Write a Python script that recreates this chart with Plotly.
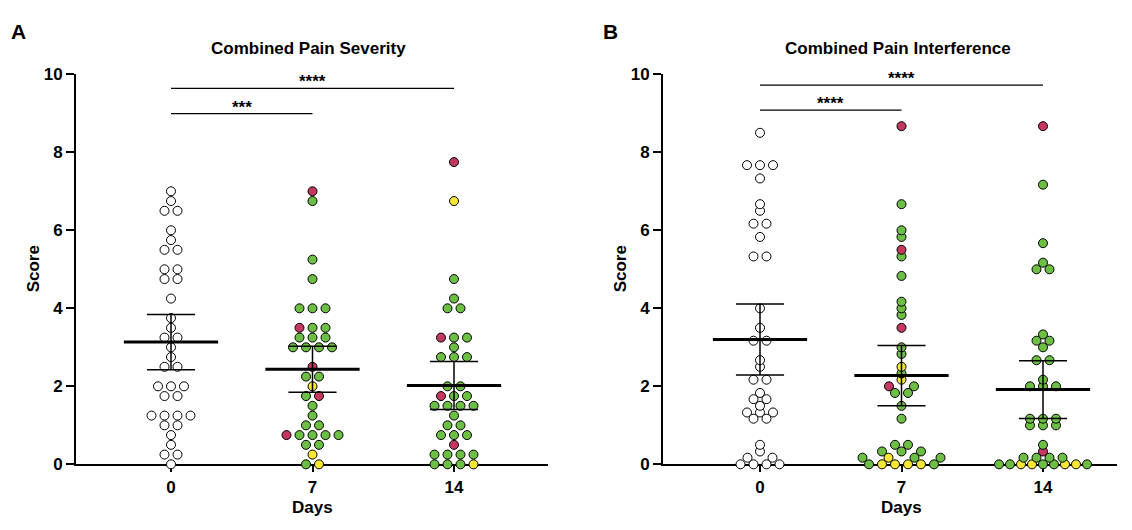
import numpy as np
import plotly.graph_objects as go

# ---------------- data ----------------
days = ["0", "7", "14"]
y_ticks = [0, 2, 4, 6, 8, 10]

# Panel A: Combined Pain Severity (left-to-right order within equal values)
sev_d0 = [0, 0.25, 0.25, 0.5, 0.75, 1, 1, 1.25, 1.25, 1.25, 1.25, 1.75, 1.75,
          2, 2, 2, 2.5, 2.5, 2.75, 3, 3.25, 3.25, 3.5, 3.75, 4.25, 4.75, 4.75,
          5, 5, 5.5, 5.5, 5.75, 6, 6.5, 6.5, 6.75, 7]
sev_d0_grp = ["W", "W", "W", "W", "W", "W", "W", "W", "W", "W", "W", "W", "W",
              "W", "W", "W", "W", "W", "W", "W", "W", "W", "W", "W", "W", "W", "W",
              "W", "W", "W", "W", "W", "W", "W", "W", "W", "W"]

sev_d7 = [0, 0, 0.25, 0.5, 0.5, 0.75, 0.75, 0.75, 0.75, 0.75, 1, 1, 1.25, 1.5,
          1.75, 1.75, 2, 2.25, 2.25, 2.5, 3, 3, 3, 3, 3.25, 3.25, 3.25,
          3.5, 3.5, 3.5, 4, 4, 4, 4.75, 5.25, 6.75, 7]
sev_d7_grp = ["G", "Y", "Y", "G", "G", "R", "G", "G", "G", "G", "G", "G", "G", "G",
              "G", "R", "Y", "G", "G", "R", "G", "G", "G", "G", "G", "G", "G",
              "R", "G", "G", "G", "G", "G", "G", "G", "G", "R"]

sev_d14 = [0, 0, 0, 0, 0.25, 0.25, 0.25, 0.25, 0.5, 0.75, 0.75, 0.75, 1, 1, 1.25,
           1.5, 1.5, 1.5, 1.5, 1.75, 1.75, 1.75, 2, 2, 2.75, 2.75, 2.75, 3,
           3.25, 3.25, 3.25, 4, 4, 4.25, 4.75, 6.75, 7.75]
sev_d14_grp = ["G", "G", "G", "Y", "G", "G", "G", "G", "R", "G", "G", "G", "G", "G", "G",
               "G", "G", "G", "G", "R", "G", "G", "G", "G", "G", "G", "G", "G",
               "R", "G", "G", "G", "G", "G", "G", "Y", "R"]

# Panel B: Combined Pain Interference
int_d0 = [0, 0, 0, 0, 0.17, 0.17, 0.33, 0.5, 1.17, 1.17, 1.33, 1.33, 1.33, 1.5,
          1.67, 1.67, 1.83, 2.17, 2.17, 2.5, 2.67, 3.17, 3.17, 3.5, 4.0,
          5.33, 5.33, 5.83, 6.17, 6.17, 6.5, 6.67, 7.33, 7.67, 7.67, 7.67, 8.5]
int_d0_grp = ["W", "W", "W", "W", "W", "W", "W", "W", "W", "W", "W", "W", "W", "W",
              "W", "W", "W", "W", "W", "W", "W", "W", "W", "W", "W",
              "W", "W", "W", "W", "W", "W", "W", "W", "W", "W", "W", "W"]

int_d7 = [0, 0, 0, 0, 0, 0, 0.17, 0.17, 0.17, 0.17, 0.33, 0.33, 0.33, 0.5, 0.5,
          1.17, 1.5, 1.83, 1.83, 2.0, 2.0, 2.17, 2.33, 2.5, 2.83, 3.0, 3.5,
          3.83, 4.0, 4.17, 4.83, 5.33, 5.5, 5.83, 6.0, 6.67, 8.67]
int_d7_grp = ["G", "Y", "Y", "Y", "Y", "G", "G", "Y", "G", "G", "G", "G", "G", "G", "G",
              "G", "G", "G", "G", "R", "G", "Y", "G", "Y", "G", "G", "R",
              "G", "G", "G", "G", "G", "R", "G", "G", "G", "R"]

int_d14 = [0, 0, 0, 0, 0, 0, 0, 0, 0, 0.17, 0.17, 0.17, 0.17, 0.33, 0.5,
           1.0, 1.0, 1.0, 1.17, 1.17, 1.17, 2.0, 2.0, 2.0, 2.17, 2.67, 2.67,
           3.0, 3.17, 3.17, 3.33, 5.0, 5.0, 5.17, 5.67, 7.17, 8.67]
int_d14_grp = ["G", "G", "Y", "Y", "G", "G", "Y", "Y", "G", "G", "G", "G", "G", "R", "G",
               "G", "G", "G", "G", "G", "G", "G", "G", "G", "G", "G", "G",
               "G", "G", "G", "G", "G", "G", "G", "G", "G", "R"]

group_colors = {"W": "#FFFFFF", "G": "#6DBE45", "R": "#C4375F", "Y": "#F6E635"}

panels = [
    {"title": "Combined Pain Severity", "letter": "A",
     "cols": [(sev_d0, sev_d0_grp), (sev_d7, sev_d7_grp), (sev_d14, sev_d14_grp)],
     "sig": [(0, 2, 9.64, "****"), (0, 1, 8.99, "***")]},
    {"title": "Combined Pain Interference", "letter": "B",
     "cols": [(int_d0, int_d0_grp), (int_d7, int_d7_grp), (int_d14, int_d14_grp)],
     "sig": [(0, 2, 9.72, "****"), (0, 1, 9.08, "****")]},
]

# ---------------- layout geometry (window pixels) ----------------
WIN_W, WIN_H = 1132, 530
OFF = 8                       # default page body margin
FW, FH = WIN_W - 2 * OFF, WIN_H - 2 * OFF
Y_TOP, Y_BOT = 67.5, 472.5
PX_PER_CAT = 141.5
geo = [
    {"x0": 76, "x1": 548, "c0": 171, "letter_x": 18},
    {"x0": 663, "x1": 1117, "c0": 760, "letter_x": 610},
]
PPU = (Y_BOT - Y_TOP) / 10.0
FONT = "Liberation Sans, Arial, sans-serif"


def px_x(px):
    return (px - OFF) / FW


def px_y(py):
    return 1 - (py - OFF) / FH


def swarm(vals, ppu, unit=13.0, wmax=88.0, dmin=9.0):
    vals = np.asarray(vals, float)
    keys = np.round(vals, 2)
    offs = np.zeros(len(vals))
    placed = []
    for v in sorted(set(keys.tolist())):
        idx = np.where(keys == v)[0]
        n = len(idx)
        y = v * ppu
        if n == 1:
            xs = [0.0]
        else:
            s0 = min(unit, wmax / (n - 1))

            def trial(s):
                xs = [(i - (n - 1) / 2) * s for i in range(n)]
                for x in xs:
                    for (px, py) in placed:
                        if (x - px) ** 2 + (y - py) ** 2 < dmin ** 2 - 1e-9:
                            return None
                return xs

            xs = None
            s = s0
            while s * (n - 1) <= wmax + 1e-9:
                xs = trial(s)
                if xs is not None:
                    break
                s += 0.5
            if xs is None:
                xs = [(i - (n - 1) / 2) * s0 for i in range(n)]
        for j, x in zip(idx, sorted(xs)):
            offs[j] = x
        placed.extend((x, y) for x in xs)
    return offs


fig = go.Figure()
annotations = []
shapes = []
T95 = 2.028
bold = lambda s: dict(family=FONT, size=s, color="black", weight="bold")

for p, (panel, g) in enumerate(zip(panels, geo)):
    xa = "x" if p == 0 else "x2"
    ya = "y" if p == 0 else "y2"
    for ci, (vals, grp) in enumerate(panel["cols"]):
        vals_arr = np.asarray(vals, float)
        offs = swarm(vals_arr, PPU) / PX_PER_CAT
        xs = ci + offs
        colors = [group_colors[k] for k in grp]
        fig.add_trace(go.Scatter(
            x=xs, y=vals_arr, mode="markers", xaxis=xa, yaxis=ya,
            marker=dict(size=9, color=colors, line=dict(color="black", width=1)),
            cliponaxis=False, showlegend=False, hoverinfo="y"))
        m = vals_arr.mean()
        se = vals_arr.std(ddof=1) / np.sqrt(len(vals_arr))
        lo, hi = m - T95 * se, m + T95 * se
        fig.add_trace(go.Scatter(
            x=[ci, ci, None, ci - 0.17, ci + 0.17, None, ci - 0.17, ci + 0.17],
            y=[lo, hi, None, hi, hi, None, lo, lo],
            mode="lines", line=dict(color="black", width=1.5),
            xaxis=xa, yaxis=ya, showlegend=False, hoverinfo="skip", cliponaxis=False))
        fig.add_trace(go.Scatter(
            x=[ci - 0.333, ci + 0.333], y=[m, m], mode="lines",
            line=dict(color="black", width=3), xaxis=xa, yaxis=ya,
            showlegend=False, hoverinfo="skip", cliponaxis=False))

    for (a, b, yv, txt) in panel["sig"]:
        shapes.append(dict(type="line", xref=xa, yref=ya, x0=a, x1=b, y0=yv, y1=yv,
                           line=dict(color="black", width=1.2)))
        annotations.append(dict(xref=xa, yref=ya, x=(a + b) / 2, y=yv, text=txt,
                                showarrow=False, xanchor="center", yanchor="bottom",
                                yshift=-5, font=bold(17)))

    c7 = g["c0"] + PX_PER_CAT
    annotations.append(dict(xref="paper", yref="paper", x=px_x(c7 - 4), y=px_y(41),
                            text=panel["title"], showarrow=False,
                            xanchor="center", yanchor="middle", font=bold(17)))
    annotations.append(dict(xref="paper", yref="paper", x=px_x(g["x0"] - 43),
                            y=px_y((Y_TOP + Y_BOT) / 2), text="Score", textangle=-90,
                            showarrow=False, xanchor="center", yanchor="middle",
                            font=bold(17)))
    annotations.append(dict(xref="paper", yref="paper", x=px_x(c7), y=px_y(517),
                            text="Days", showarrow=False, xanchor="center",
                            yanchor="middle", font=bold(17)))
    annotations.append(dict(xref="paper", yref="paper", x=px_x(g["letter_x"]),
                            y=px_y(23), text=panel["letter"], showarrow=False,
                            xanchor="center", yanchor="middle", font=bold(21)))

axis_common = dict(showline=True, linecolor="black", linewidth=2, showgrid=False,
                   zeroline=False, ticks="outside", tickcolor="black", tickwidth=2,
                   tickfont=bold(17), fixedrange=True, layer="below traces")

layout_axes = {}
for p, g in enumerate(geo):
    sfx = "" if p == 0 else "2"
    xr = [(g["x0"] - g["c0"]) / PX_PER_CAT, (g["x1"] - g["c0"]) / PX_PER_CAT]
    layout_axes["xaxis" + sfx] = dict(axis_common, domain=[px_x(g["x0"]), px_x(g["x1"])],
                                      range=xr, tickvals=[0, 1, 2], ticktext=days,
                                      ticklen=6, anchor="y" + sfx)
    layout_axes["yaxis" + sfx] = dict(axis_common,
                                      domain=[px_y(Y_BOT), px_y(Y_TOP)],
                                      range=[0, 10], tickvals=y_ticks, ticklen=8,
                                      anchor="x" + sfx)

fig.update_layout(width=FW, height=FH, margin=dict(l=0, r=0, t=0, b=0),
                  paper_bgcolor="white", plot_bgcolor="white",
                  annotations=annotations, shapes=shapes,
                  font=dict(family=FONT, color="black"), **layout_axes)

fig.write_html("out.html")
